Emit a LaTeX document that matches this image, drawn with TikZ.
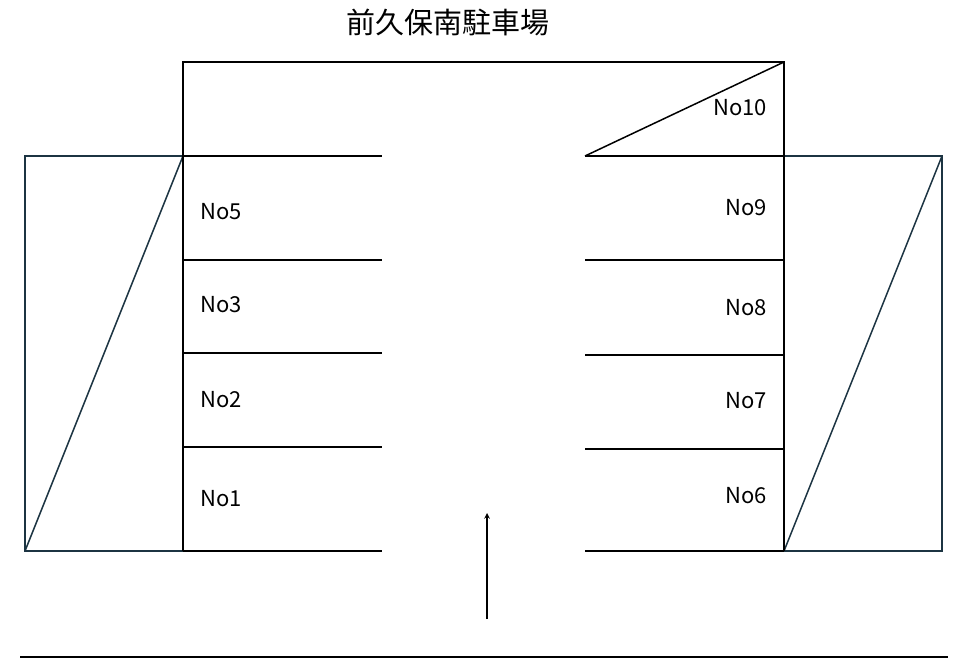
\documentclass[tikz,border=0pt]{standalone}
\usepackage{fontspec}
\setmainfont{Noto Sans CJK JP}
\definecolor{slate}{RGB}{28,52,66}
\begin{document}
\begin{tikzpicture}[x=1pt,y=-1pt,
  ln/.style={black,line width=1.5pt},
  bx/.style={draw=slate,line width=1.5pt},
  lbl/.style={font=\fontsize{22}{24}\selectfont,inner sep=0}]
\useasboundingbox (0,0) rectangle (975,670);
\node (title) at (448,22) {\fontsize{29}{31}\selectfont 前久保南駐車場};
\draw[bx] (183,156) -- (25,156) -- (25,551) -- (183,551);
\draw[bx] (25,551) -- (183,156);
\draw[bx] (784,156) -- (942,156) -- (942,551) -- (784,551);
\draw[bx] (784,551) -- (942,156);
\draw[ln] (183,551) -- (183,62) -- (784,62) -- (784,551);
\draw[ln] (585,156) -- (784,62);
\foreach \y in {156,260,353,447,551} \draw[ln] (183,\y) -- (382,\y);
\foreach \y in {156,260,355,449,551} \draw[ln] (585,\y) -- (784,\y);
\coordinate (a1) at (487,619); \coordinate (a2) at (487,513);
\draw[ln,-stealth] (a1) -- (a2);
\draw[ln] (20,657) -- (948,657);
\node[lbl,anchor=west] (n5) at (200,212) {No5};
\node[lbl,anchor=west] (n3) at (200,305) {No3};
\node[lbl,anchor=west] (n2) at (200,400) {No2};
\node[lbl,anchor=west] (n1) at (200,499) {No1};
\node[lbl,anchor=east] (n10) at (767,108) {No10};
\node[lbl,anchor=east] (n9) at (767,208) {No9};
\node[lbl,anchor=east] (n8) at (767,308) {No8};
\node[lbl,anchor=east] (n7) at (767,401) {No7};
\node[lbl,anchor=east] (n6) at (767,496) {No6};
\end{tikzpicture}
\end{document}
